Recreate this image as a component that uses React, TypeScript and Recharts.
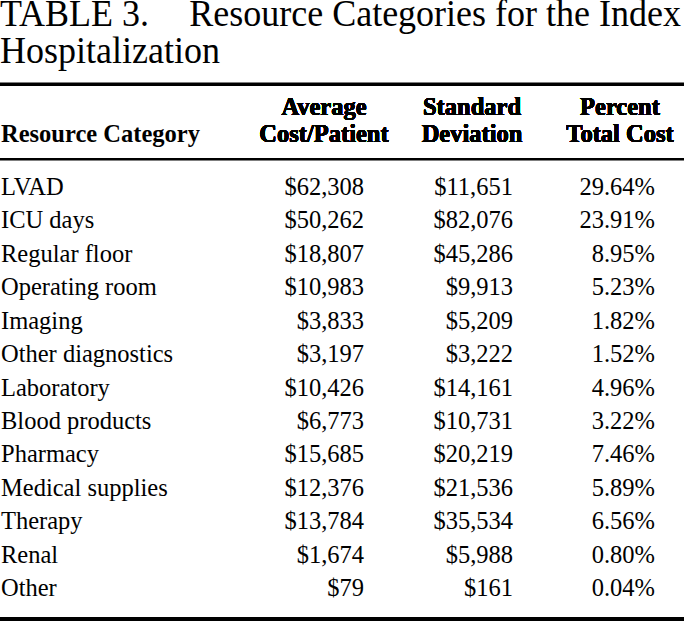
import { ScatterChart, Scatter, XAxis, YAxis, Customized } from "recharts";

const categories = [
  "LVAD",
  "ICU days",
  "Regular floor",
  "Operating room",
  "Imaging",
  "Other diagnostics",
  "Laboratory",
  "Blood products",
  "Pharmacy",
  "Medical supplies",
  "Therapy",
  "Renal",
  "Other",
];

const avgCost = [62308, 50262, 18807, 10983, 3833, 3197, 10426, 6773, 15685, 12376, 13784, 1674, 79];
const stdDev = [11651, 82076, 45286, 9913, 5209, 3222, 14161, 10731, 20219, 21536, 35534, 5988, 161];
const pctTotal = [29.64, 23.91, 8.95, 5.23, 1.82, 1.52, 4.96, 3.22, 7.46, 5.89, 6.56, 0.8, 0.04];

const columnKeys = ["avg", "sd", "pct"];
const columnHeaders: Record<string, [string, string]> = {
  avg: ["Average", "Cost/Patient"],
  sd: ["Standard", "Deviation"],
  pct: ["Percent", "Total Cost"],
};

const money = (v: number) => "$" + v.toLocaleString("en-US");
const percent = (v: number) => v.toFixed(2) + "%";

const avgRows = categories.map((name, i) => ({ col: "avg", name, label: money(avgCost[i]) }));
const sdRows = categories.map((name, i) => ({ col: "sd", name, label: money(stdDev[i]) }));
const pctRows = categories.map((name, i) => ({ col: "pct", name, label: percent(pctTotal[i]) }));

const W = 684;
const H = 621;
const SERIF = "'Liberation Serif', 'Times New Roman', serif";
const BODY_SIZE = 24.5;

const cellShape = (offset: number) => (props: any) => {
  const { cx, cy, payload } = props;
  return (
    <text x={cx + offset} y={cy} textAnchor="end" fontFamily={SERIF} fontSize={BODY_SIZE} fill="#000">
      {payload.label}
    </text>
  );
};

const HeaderTick = (props: any) => {
  const { x, payload } = props;
  const [l1, l2] = columnHeaders[payload.value] || ["", ""];
  return (
    <g>
      <text x={x} y={114.5} textAnchor="middle" fontFamily={SERIF} fontWeight="bold" fontSize={24.5} fill="#000">
        {l1}
      </text>
      <text x={x} y={142} textAnchor="middle" fontFamily={SERIF} fontWeight="bold" fontSize={24.5} fill="#000">
        {l2}
      </text>
    </g>
  );
};

const RowTick = (props: any) => {
  const { y, payload } = props;
  return (
    <text x={1} y={y} textAnchor="start" fontFamily={SERIF} fontSize={BODY_SIZE} fill="#000">
      {payload.value}
    </text>
  );
};

// title, heading of the first column and the table rules
const Frame = () => (
  <g>
    <g transform="translate(0,25.5) scale(1,1.05)" fontFamily={SERIF} fontSize={36} fill="#000">
      <text x={0} y={0}>TABLE 3.</text>
      <text x={681} y={0} textAnchor="end">
        Resource Categories for the Index
      </text>
    </g>
    <g transform="translate(0,63) scale(1,1.05)" fontFamily={SERIF} fontSize={36} fill="#000">
      <text x={0} y={0}>Hospitalization</text>
    </g>
    <rect x={0} y={82.5} width={W} height={3.5} fill="#000" />
    <text x={1} y={142} fontFamily={SERIF} fontWeight="bold" fontSize={24.5} fill="#000">
      Resource Category
    </text>
    <rect x={0} y={158} width={W} height={2.5} fill="#000" />
    <rect x={0} y={617} width={W} height={4} fill="#000" />
  </g>
);

export default function App() {
  return (
    <div style={{ position: "absolute", left: 0, top: 0, width: W, height: H, background: "#fff" }}>
      <ScatterChart width={W} height={H} margin={{ top: 135, right: 64, bottom: 25, left: 0 }}>
        <Customized component={Frame} />
        <XAxis
          xAxisId={0}
          type="category"
          dataKey="col"
          orientation="top"
          height={60}
          domain={columnKeys}
          allowDuplicatedCategory={false}
          scale="point"
          padding={{ left: 0, right: 0 }}
          axisLine={false}
          tickLine={false}
          tick={<HeaderTick />}
          interval={0}
        />
        <YAxis
          yAxisId={0}
          type="category"
          dataKey="name"
          width={324}
          domain={categories}
          allowDuplicatedCategory={false}
          scale="point"
          padding={{ top: 0, bottom: 0 }}
          reversed
          axisLine={false}
          tickLine={false}
          tick={<RowTick />}
          interval={0}
        />
        <Scatter data={avgRows} shape={cellShape(40)} isAnimationActive={false} />
        <Scatter data={sdRows} shape={cellShape(41)} isAnimationActive={false} />
        <Scatter data={pctRows} shape={cellShape(35)} isAnimationActive={false} />
      </ScatterChart>
    </div>
  );
}
